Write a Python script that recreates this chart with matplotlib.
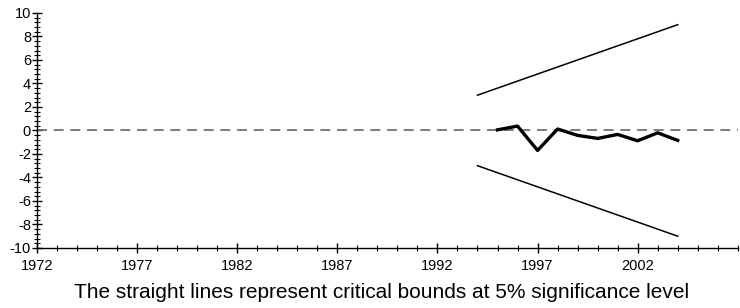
import matplotlib
matplotlib.use("Agg")
import matplotlib.pyplot as plt
from matplotlib.ticker import MultipleLocator, FixedLocator

plt.rcParams['font.family'] = ['Liberation Sans', 'DejaVu Sans']
plt.rcParams['axes.unicode_minus'] = False

# CUSUM statistic
years = [1995, 1996, 1997, 1998, 1999, 2000, 2001, 2002, 2003, 2004]
cusum = [0.05, 0.37, -1.7, 0.12, -0.42, -0.68, -0.34, -0.88, -0.2, -0.85]

# 5% critical bounds (straight lines)
bound_years = [1994, 2004]
upper = [3.0, 9.0]
lower = [-3.0, -9.0]

year_ticks = [1972, 1977, 1982, 1987, 1992, 1997, 2002]

caption = "The straight lines represent critical bounds at 5% significance level"

fig = plt.figure(figsize=(7.4, 3.08), dpi=100)
ax = fig.add_axes([0.05, 0.195, 0.947, 0.763])

ax.axhline(0, color='#666666', lw=1.2, dashes=(6, 4))
ax.plot(bound_years, upper, color='black', lw=1.1)
ax.plot(bound_years, lower, color='black', lw=1.1)
ax.plot(years, cusum, color='black', lw=2.4)

ax.set_xlim(1972, 2007)
ax.set_ylim(-10, 10)
ax.xaxis.set_major_locator(FixedLocator(year_ticks))
ax.xaxis.set_minor_locator(MultipleLocator(1))
ax.yaxis.set_major_locator(MultipleLocator(2))
ax.yaxis.set_minor_locator(MultipleLocator(0.4))

for s in ['top', 'right']:
    ax.spines[s].set_visible(False)
for s in ['left', 'bottom']:
    ax.spines[s].set_linewidth(1.0)

ax.tick_params(which='major', direction='inout', length=6.5, width=1.0, labelsize=10.5)
ax.tick_params(which='minor', direction='inout', length=4, width=0.8)
ax.tick_params(axis='x', which='major', pad=5)
ax.tick_params(axis='y', which='major', pad=1)

fig.text(0.516, 0.05, caption, ha='center', va='center', fontsize=15)

fig.savefig("out.png", dpi=100)
